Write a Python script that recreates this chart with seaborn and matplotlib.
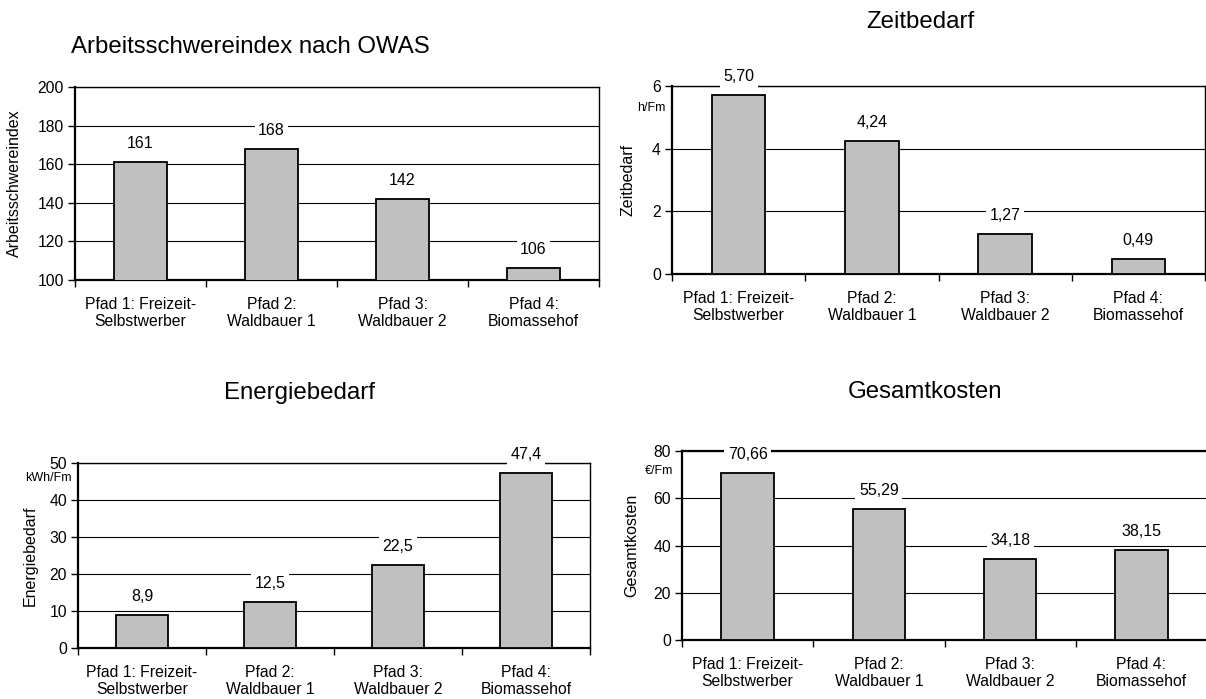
import matplotlib
matplotlib.use("Agg")
import matplotlib.pyplot as plt
import seaborn as sns
import numpy as np

categories = ["Pfad 1: Freizeit-\nSelbstwerber", "Pfad 2:\nWaldbauer 1",
              "Pfad 3:\nWaldbauer 2", "Pfad 4:\nBiomassehof"]
arbeits = [161, 168, 142, 106]
zeit = [5.70, 4.24, 1.27, 0.49]
energie = [8.9, 12.5, 22.5, 47.4]
kosten = [70.66, 55.29, 34.18, 38.15]

sns.set_style("white")
plt.rcParams["font.family"] = ["Liberation Sans", "DejaVu Sans"]
plt.rcParams["text.color"] = "black"
plt.rcParams["xtick.color"] = "black"
plt.rcParams["ytick.color"] = "black"
plt.rcParams["axes.labelcolor"] = "black"

fig = plt.figure(figsize=(12.06, 6.99), dpi=100)

panels = [
    dict(rect=[75, 87, 524, 193], vals=arbeits, dec=0,
         ylim=(100, 200), ticks=[100, 120, 140, 160, 180, 200],
         ylabel="Arbeitsschwereindex", ylx=14, unit=None,
         title="Arbeitsschwereindex nach OWAS", tpos=(250, 47), thicktop=False),
    dict(rect=[672, 86, 533, 188], vals=zeit, dec=2,
         ylim=(0, 6), ticks=[0, 2, 4, 6],
         ylabel="Zeitbedarf", ylx=628, unit=("h/Fm", 0.883, 7),
         title="Zeitbedarf", tpos=(920, 22), thicktop=False),
    dict(rect=[78, 463, 512, 185], vals=energie, dec=1,
         ylim=(0, 50), ticks=[0, 10, 20, 30, 40, 50],
         ylabel="Energiebedarf", ylx=30, unit=("kWh/Fm", 0.92, 6),
         title="Energiebedarf", tpos=(300, 393), thicktop=False),
    dict(rect=[682, 451, 525, 189], vals=kosten, dec=2,
         ylim=(0, 80), ticks=[0, 20, 40, 60, 80],
         ylabel="Gesamtkosten", ylx=632, unit=("€/Fm", 0.894, 9),
         title="Gesamtkosten", tpos=(925, 392), thicktop=True),
]

W, H = 1206, 699
for p in panels:
    x0, y0, w, h = p["rect"]
    ax = fig.add_axes([x0 / W, 1 - (y0 + h) / H, w / W, h / H])
    sns.barplot(x=categories, y=p["vals"], color="#C0C0C0", saturation=1,
                edgecolor="black", linewidth=1.3, width=0.4, ax=ax, zorder=3)
    ax.set_xlim(-0.5, 3.5)
    ax.set_ylim(*p["ylim"])
    ax.set_yticks(p["ticks"])
    ax.set_yticklabels([str(t) for t in p["ticks"]], fontsize=11.3)
    ax.yaxis.grid(True, color="black", linewidth=0.8)
    ax.set_axisbelow(True)
    ax.tick_params(axis="y", direction="out", length=5, width=1, pad=3, left=True)
    ax.set_xticks(range(4))
    ax.set_xticklabels(categories, fontsize=11.3)
    ax.tick_params(axis="x", which="major", length=0, pad=12)
    ax.set_xticks([-0.5, 0.5, 1.5, 2.5, 3.5], minor=True)
    ax.tick_params(axis="x", which="minor", direction="out", length=5, width=1, bottom=True)
    ax.set_ylabel("")
    ax.set_xlabel("")
    ax.text((p["ylx"] - x0) / w, 0.5, p["ylabel"], transform=ax.transAxes,
            rotation=90, ha="center", va="center", fontsize=11.5)
    for s in ax.spines.values():
        s.set_visible(True)
        s.set_color("black")
        s.set_linewidth(1.0)
    ax.spines["left"].set_linewidth(1.6)
    ax.spines["bottom"].set_linewidth(1.6)
    if p["thicktop"]:
        ax.spines["top"].set_linewidth(1.6)
    for i, v in enumerate(p["vals"]):
        lab = f"{v:.{p['dec']}f}".replace(".", ",")
        ax.annotate(lab, (i, v), xytext=(0, 8), textcoords="offset points",
                    ha="center", va="bottom", fontsize=11.5, zorder=4,
                    bbox=dict(facecolor="white", edgecolor="none", pad=2.5))
    if p["unit"]:
        txt, yy, dx = p["unit"]
        ax.text(-dx / w, yy, txt, transform=ax.transAxes, ha="right", va="center",
                fontsize=9)
    fig.text(p["tpos"][0] / W, 1 - p["tpos"][1] / H, p["title"],
             ha="center", va="center", fontsize=17.3)

fig.savefig("out.png", dpi=100)
